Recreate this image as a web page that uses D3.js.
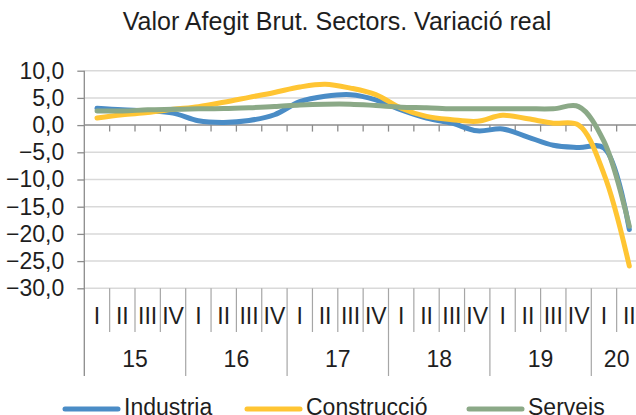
<!DOCTYPE html>
<html>
<head>
<meta charset="utf-8">
<script src="https://cdn.jsdelivr.net/npm/d3@7"></script>
<style>
  body { margin: 0; background: #fff; }
  svg { display: block; font-family: "Liberation Sans", Arial, sans-serif; }
</style>
</head>
<body>
<svg id="chart" width="636" height="415"></svg>
<script>
// quarters 2015 Q1 .. 2020 Q2
var quarters = ["I","II","III","IV","I","II","III","IV","I","II","III","IV",
                "I","II","III","IV","I","II","III","IV","I","II"];
var years = ["15","16","17","18","19","20"];
var yTicks = [10, 5, 0, -5, -10, -15, -20, -25, -30];

var industria   = [3.1, 2.8, 2.6, 2.2, 0.8, 0.5, 0.85, 1.9, 4.3, 5.3, 5.6, 4.65,
                   2.8, 1.3, 0.35, -1.05, -0.7, -2.2, -3.7, -4.1, -4.2, -19.2];
var construccio = [1.3, 1.9, 2.3, 2.9, 3.4, 4.2, 5.1, 6.0, 7.0, 7.5, 6.8, 5.6,
                   3.1, 1.6, 1.0, 0.7, 1.8, 1.15, 0.35, 0.0, -9.0, -25.9];
var serveis     = [2.6, 2.6, 2.8, 2.9, 3.0, 3.05, 3.2, 3.4, 3.7, 3.85, 3.85, 3.6,
                   3.3, 3.2, 3.0, 3.0, 3.0, 3.0, 3.0, 3.4, -3.0, -18.6];

var seriesNames = ["Industria", "Construcció", "Serveis"];
var colors = ["#4a8cc6", "#ffc533", "#8ba987"];
var series = [industria, construccio, serveis];

var svg = d3.select("#chart");
var idx = d3.range(quarters.length);

var x = d3.scaleBand().domain(idx).range([84.3, 642]).padding(0);
var y = d3.scaleLinear().domain([-30, 10]).range([288.3, 70.7]);

var axisColor = "#8c8c8c";
var textColor = "#1e1e1e";

// title
svg.append("text")
  .attr("x", 337).attr("y", 30)
  .attr("text-anchor", "middle")
  .style("font-size", "25px").style("fill", textColor)
  .text("Valor Afegit Brut. Sectors. Variació real");

// gridlines
svg.append("g").selectAll("line")
  .data(yTicks.filter(function(d){ return d != 0; }))
  .enter().append("line")
  .attr("x1", 84.3).attr("x2", 642)
  .attr("y1", function(d){ return y(d); }).attr("y2", function(d){ return y(d); })
  .style("stroke", "#d9d9d9").style("stroke-width", 1.5);

// y axis
var yAxis = d3.axisLeft(y).tickValues(yTicks).tickSize(7).tickSizeOuter(0)
  .tickFormat(function(d){ return d3.format(".1f")(d).replace(".", ","); });
var gy = svg.append("g").attr("transform", "translate(84.3,0)").call(yAxis);
gy.select(".domain").remove();
gy.selectAll("line").style("stroke", axisColor).style("stroke-width", 1.3);
gy.selectAll("text").attr("x", -20).style("font-size", "23px").style("fill", textColor)
  .style("font-family", "Liberation Sans, Arial, sans-serif");
svg.append("line")
  .attr("x1", 84.3).attr("x2", 84.3).attr("y1", y(10)).attr("y2", 376)
  .style("stroke", axisColor).style("stroke-width", 1.3);

// zero line with tick marks
svg.append("line")
  .attr("x1", 84.3).attr("x2", 642).attr("y1", y(0)).attr("y2", y(0))
  .style("stroke", axisColor).style("stroke-width", 1.5);
var bounds = idx.map(function(i){ return x(i); }).concat([x.range()[1]]);
svg.append("g").selectAll("line").data(bounds.slice(1)).enter().append("line")
  .attr("x1", function(d){ return d; }).attr("x2", function(d){ return d; })
  .attr("y1", y(0)).attr("y2", y(0) + 6.5)
  .style("stroke", axisColor).style("stroke-width", 1.3);

// category separators (quarters and years)
svg.append("g").selectAll("line").data(bounds.slice(1)).enter().append("line")
  .attr("x1", function(d){ return d; }).attr("x2", function(d){ return d; })
  .attr("y1", y(-30))
  .attr("y2", function(d, i){ return (i + 1) % 4 == 0 ? 376 : 332; })
  .style("stroke", "#a6a6a6").style("stroke-width", 1.2);

svg.append("g").selectAll("text").data(quarters).enter().append("text")
  .attr("x", function(d, i){ return x(i) + x.bandwidth() / 2; })
  .attr("y", 323.5)
  .attr("text-anchor", "middle")
  .style("font-size", "23px").style("fill", textColor)
  .text(function(d){ return d; });

svg.append("g").selectAll("text").data(years).enter().append("text")
  .attr("x", function(d, i){
    var a = x(i * 4), b = i * 4 + 4 < quarters.length ? x(i * 4 + 4) : x.range()[1];
    return (a + b) / 2;
  })
  .attr("y", 367)
  .attr("text-anchor", "middle")
  .style("font-size", "23px").style("fill", textColor)
  .text(function(d){ return d; });

// series lines
var line = d3.line()
  .x(function(d, i){ return x(i) + x.bandwidth() / 2; })
  .y(function(d){ return y(d); })
  .curve(d3.curveCatmullRom.alpha(0.5));

svg.append("g").selectAll("path").data(series).enter().append("path")
  .attr("d", line)
  .style("fill", "none")
  .style("stroke", function(d, i){ return colors[i]; })
  .style("stroke-width", 5)
  .style("stroke-linejoin", "round")
  .style("stroke-linecap", "round");

// legend (cut by the bottom edge, as in the reference)
var legendX = [65, 247, 469];
var lg = svg.append("g").selectAll("g").data(seriesNames).enter().append("g")
  .attr("transform", function(d, i){ return "translate(" + legendX[i] + ",409)"; });
lg.append("line")
  .attr("x1", 0).attr("x2", 53).attr("y1", 0).attr("y2", 0)
  .style("stroke", function(d, i){ return colors[i]; })
  .style("stroke-width", 5).style("stroke-linecap", "round");
lg.append("text")
  .attr("x", 59).attr("y", 6)
  .style("font-size", "23px").style("fill", textColor)
  .text(function(d){ return d; });
</script>
</body>
</html>
